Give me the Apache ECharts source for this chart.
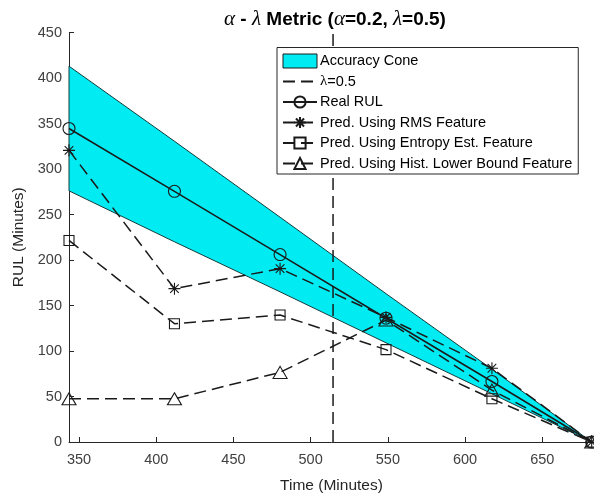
<!DOCTYPE html>
<html><head><meta charset="utf-8">
<script src="https://cdn.jsdelivr.net/npm/echarts@6/dist/echarts.min.js"></script>
<style>html,body{margin:0;padding:0;background:#fff}#c{width:594px;height:499px}</style>
</head><body><div id="c"></div>
<script>
// Data
const times     = [343.5, 411.8, 480.2, 548.8, 617.4, 682];
const realRUL   = [344.5, 275.5, 206, 136, 66.5, 0];
const coneUpper = [413, 330.5, 247, 163, 80, 0];
const coneLower = [276, 220, 165, 109, 53, 0];
const rmsPred   = [320.5, 168.5, 190.5, 137, 81, 0];
const entPred   = [221.5, 130, 139.5, 101.5, 47.5, 0];
const histPred  = [47.5, 47.5, 76.5, 134, 57, 0];
const lambdaX   = 514.5;
const lambdaY   = [0, 450];
const xTicks    = [350, 400, 450, 500, 550, 600, 650];

const pairs = ys => times.map((t, i) => [t, ys[i]]);

const FONT = 'Liberation Sans';
const INK = '#1a1a1a';
const CYAN = '#00ebf2';
const STAR = 'path://M0,-1L0,1M-1,0L1,0M-0.72,-0.72L0.72,0.72M-0.72,0.72L0.72,-0.72';
const hollow = {color: 'rgba(0,0,0,0)', borderColor: INK, borderWidth: 1.1};
const dashed = {color: INK, width: 1.5, type: [12, 6]};

const chart = echarts.init(document.getElementById('c'), null, {renderer: 'canvas'});
chart.setOption({
  animation: false,
  backgroundColor: '#fff',
  title: {
    text: '{g|α} - {g|λ} Metric ({g|α}=0.2, {g|λ}=0.5)',
    left: 330, top: 4, textAlign: 'center',
    textStyle: {
      fontFamily: FONT, fontSize: 19, fontWeight: 'bold', color: '#000',
      rich: {g: {fontFamily: 'Liberation Serif', fontSize: 21, fontWeight: 'normal', fontStyle: 'italic', color: '#000'}}
    }
  },
  grid: {left: 69, right: 0, top: 32.5, bottom: 52, containLabel: false},
  xAxis: {
    type: 'value', min: 343.5, max: 683.5, minInterval: 50, maxInterval: 50,
    name: 'Time (Minutes)', nameLocation: 'middle', nameGap: 36,
    nameTextStyle: {fontFamily: FONT, fontSize: 15.5, color: '#262626'},
    axisLine: {lineStyle: {color: '#262626', width: 1}},
    axisTick: {inside: true, length: 5, lineStyle: {color: '#262626'}},
    axisLabel: {
      fontFamily: FONT, fontSize: 14.5, color: '#404040', margin: 10,
      showMinLabel: false, showMaxLabel: false,
      formatter: v => xTicks.includes(v) ? String(v) : ''
    },
    splitLine: {show: false}
  },
  yAxis: {
    type: 'value', min: 0, max: 450, interval: 50,
    name: 'RUL (Minutes)', nameLocation: 'middle', nameGap: 40,
    nameTextStyle: {fontFamily: FONT, fontSize: 15.5, color: '#262626'},
    axisLine: {show: true, lineStyle: {color: '#262626', width: 1}},
    axisTick: {show: true, inside: true, length: 5, lineStyle: {color: '#262626'}},
    axisLabel: {fontFamily: FONT, fontSize: 14.5, color: '#404040', margin: 7},
    splitLine: {show: false}
  },
  legend: {
    orient: 'vertical', left: 277, top: 47.5,
    padding: [6, 6, 3, 5], itemGap: 5.5, itemWidth: 34, itemHeight: 14,
    backgroundColor: '#fff', borderColor: '#262626', borderWidth: 1, borderRadius: 0,
    textStyle: {fontFamily: FONT, fontSize: 14.5, color: '#000', padding: [0, 0, 0, -2],
      rich: {g: {fontFamily: 'Liberation Serif', fontSize: 15, color: '#000'}}},
    formatter: n => n.replace('λ', '{g|λ}'),
    data: [
      {name: 'Accuracy Cone', icon: 'rect', itemStyle: {color: CYAN, borderColor: '#1a1a1a', borderWidth: 1}},
      {name: 'λ=0.5'},
      {name: 'Real RUL'},
      {name: 'Pred. Using RMS Feature'},
      {name: 'Pred. Using Entropy Est. Feature'},
      {name: 'Pred. Using Hist. Lower Bound Feature'}
    ]
  },
  series: [
    {
      name: 'Accuracy Cone', type: 'custom', z: 1, color: CYAN,
      data: times.map((t, i) => [t, coneUpper[i], coneLower[i]]),
      encode: {x: 0, y: [1, 2]},
      itemStyle: {color: CYAN, borderColor: '#103c3c', borderWidth: 1},
      renderItem: (params, api) => {
        if (params.dataIndex !== 0) return null;
        const up = times.map((t, i) => api.coord([t, coneUpper[i]]));
        const lo = times.map((t, i) => api.coord([t, coneLower[i]])).reverse();
        return {
          type: 'polygon',
          shape: {points: up.concat(lo)},
          style: {fill: CYAN, stroke: '#103c3c', lineWidth: 1}
        };
      }
    },
    {name: 'λ=0.5', type: 'line', data: lambdaY.map(y => [lambdaX, y]), symbol: 'none',
     color: INK, lineStyle: dashed, itemStyle: {color: 'rgba(0,0,0,0)', borderWidth: 0}, z: 3},
    {name: 'Real RUL', type: 'line', data: pairs(realRUL), symbol: 'circle', symbolSize: 12,
     color: INK, lineStyle: {color: INK, width: 1.5}, itemStyle: hollow, z: 4},
    {name: 'Pred. Using RMS Feature', type: 'line', data: pairs(rmsPred), symbol: STAR, symbolSize: 12,
     color: INK, lineStyle: dashed, itemStyle: hollow, z: 4},
    {name: 'Pred. Using Entropy Est. Feature', type: 'line', data: pairs(entPred), symbol: 'rect', symbolSize: 10,
     color: INK, lineStyle: dashed, itemStyle: hollow, z: 4},
    {name: 'Pred. Using Hist. Lower Bound Feature', type: 'line', data: pairs(histPred), symbol: 'triangle', symbolSize: [14, 12],
     color: INK, lineStyle: dashed, itemStyle: hollow, z: 4}
  ]
});
</script></body></html>
